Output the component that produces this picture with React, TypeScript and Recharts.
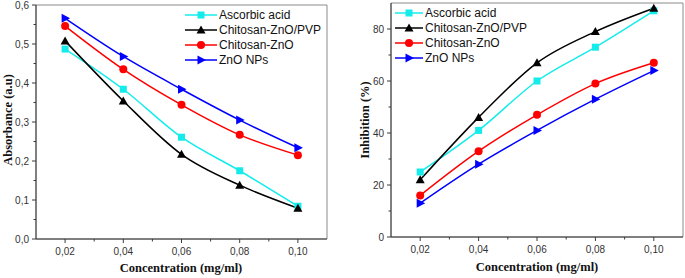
import { LineChart, Line, XAxis, YAxis, ReferenceArea } from 'recharts';

const concentrations = [0.02, 0.04, 0.06, 0.08, 0.1];

const absAscorbic = [0.487, 0.384, 0.261, 0.175, 0.084];
const absPvp = [0.508, 0.354, 0.217, 0.138, 0.079];
const absChitosan = [0.546, 0.435, 0.344, 0.267, 0.215];
const absZno = [0.566, 0.468, 0.384, 0.305, 0.234];

const inhAscorbic = [25, 41, 60, 73, 87];
const inhPvp = [22, 46, 67, 79, 88];
const inhChitosan = [16, 33, 47, 59, 67];
const inhZno = [13, 28, 41, 53, 64];

const xMajor = [0.02, 0.04, 0.06, 0.08, 0.1];
const xMinor = [0.03, 0.05, 0.07, 0.09];
const absMajor = [0, 0.1, 0.2, 0.3, 0.4, 0.5, 0.6];
const absMinor = [0.05, 0.15, 0.25, 0.35, 0.45, 0.55];
const inhMajor = [0, 20, 40, 60, 80];
const inhMinor = [10, 30, 50, 70];

const seriesNames = ['Ascorbic acid', 'Chitosan-ZnO/PVP', 'Chitosan-ZnO', 'ZnO NPs'];
const seriesColors = ['#14ecec', '#000000', '#ff0000', '#0000ff'];
const seriesShapes = ['square', 'triangle', 'circle', 'right'];

const AXIS = '#3a3a3a';
const FRAME = '#8a8a8a';
const SANS = '"Liberation Sans", Arial, sans-serif';
const SERIF = '"Liberation Serif", "Times New Roman", serif';

const absData = concentrations.map((c, i) => ({
  c,
  s0: absAscorbic[i],
  s1: absPvp[i],
  s2: absChitosan[i],
  s3: absZno[i],
}));

const inhData = concentrations.map((c, i) => ({
  c,
  s0: inhAscorbic[i],
  s1: inhPvp[i],
  s2: inhChitosan[i],
  s3: inhZno[i],
}));

const Marker = ({ cx, cy, shape, color }: any) => {
  if (cx == null || cy == null) return null;
  if (shape === 'square') return <rect x={cx - 3.5} y={cy - 3.5} width={7} height={7} fill={color} />;
  if (shape === 'triangle')
    return <polygon points={`${cx},${cy - 4.5} ${cx + 4.5},${cy + 3.5} ${cx - 4.5},${cy + 3.5}`} fill={color} />;
  if (shape === 'circle') return <circle cx={cx} cy={cy} r={4} fill={color} />;
  return <polygon points={`${cx + 5},${cy} ${cx - 3.5},${cy - 4.5} ${cx - 3.5},${cy + 4.5}`} fill={color} />;
};

const XTick = ({ x, y, payload }: any) => {
  const major = xMajor.includes(payload.value);
  return (
    <g>
      <line x1={x} x2={x} y1={y} y2={y + (major ? 4 : 2.5)} stroke={AXIS} />
      {major && (
        <text x={x} y={y + 16} textAnchor="middle" fontSize={10} fill="#333" fontFamily={SANS}>
          {payload.value.toFixed(2).replace('.', ',')}
        </text>
      )}
    </g>
  );
};

const YTick = ({ x, y, payload, majors, fmt }: any) => {
  const major = majors.includes(payload.value);
  return (
    <g>
      <line x1={x} x2={x - (major ? 4 : 2.5)} y1={y} y2={y} stroke={AXIS} />
      {major && (
        <text x={x - 7} y={y + 3.5} textAnchor="end" fontSize={10} fill="#333" fontFamily={SANS}>
          {fmt(payload.value)}
        </text>
      )}
    </g>
  );
};

const LegendBox = ({ lineWidth, left, top }: { lineWidth: number; left: number; top: number }) => (
  <div style={{ position: 'absolute', left, top, fontFamily: SANS, fontSize: 12, color: '#111' }}>
    {seriesNames.map((name, i) => (
      <div key={name} style={{ display: 'flex', alignItems: 'center', height: 15 }}>
        <svg width={lineWidth} height={12} style={{ marginRight: 2 }}>
          <line x1={0} x2={lineWidth} y1={6} y2={6} stroke={seriesColors[i]} strokeWidth={1.5} />
          <Marker cx={lineWidth / 2} cy={6} shape={seriesShapes[i]} color={seriesColors[i]} />
        </svg>
        <span style={{ whiteSpace: 'nowrap' }}>{name}</span>
      </div>
    ))}
  </div>
);

const renderLines = () =>
  seriesNames.map((name, i) => (
    <Line
      key={name}
      type="monotone"
      dataKey={`s${i}`}
      name={name}
      stroke={seriesColors[i]}
      strokeWidth={1.5}
      dot={(p: any) => <Marker key={p.index} cx={p.cx} cy={p.cy} shape={seriesShapes[i]} color={seriesColors[i]} />}
      activeDot={false}
      isAnimationActive={false}
    />
  ));

const titleStyle: any = {
  position: 'absolute',
  fontFamily: SERIF,
  fontWeight: 'bold',
  fontSize: 12.5,
  whiteSpace: 'nowrap',
  color: '#111',
};

export default function App() {
  return (
    <div style={{ position: 'absolute', left: 0, top: 0, width: 685, height: 278, background: '#fff' }}>
      <div style={{ position: 'absolute', left: 0, top: 0 }}>
        <LineChart width={340} height={278} data={absData} margin={{ top: 5, right: 13, left: 0, bottom: 0 }}>
          <ReferenceArea x1={0.01} x2={0.11} y1={0} y2={0.6} fill="none" stroke={FRAME} strokeWidth={1} />
          <XAxis
            dataKey="c"
            type="number"
            domain={[0.01, 0.11]}
            ticks={[...xMajor, ...xMinor]}
            interval={0}
            tickSize={0}
            tickMargin={0}
            tickLine={false}
            tick={(p: any) => <XTick {...p} />}
            axisLine={{ stroke: AXIS }}
            height={39}
          />
          <YAxis
            type="number"
            domain={[0, 0.6]}
            ticks={[...absMajor, ...absMinor]}
            interval={0}
            tickSize={0}
            tickMargin={0}
            tickLine={false}
            tick={(p: any) => <YTick {...p} majors={absMajor} fmt={(v: number) => v.toFixed(1).replace('.', ',')} />}
            axisLine={{ stroke: AXIS }}
            width={36}
          />
          {renderLines()}
        </LineChart>
        <LegendBox lineWidth={32} left={185} top={7} />
      </div>
      <div style={{ position: 'absolute', left: 345, top: 0 }}>
        <LineChart width={340} height={278} data={inhData} margin={{ top: 3, right: 2, left: 0, bottom: 0 }}>
          <ReferenceArea x1={0.01} x2={0.11} y1={0} y2={90} fill="none" stroke={FRAME} strokeWidth={1} />
          <XAxis
            dataKey="c"
            type="number"
            domain={[0.01, 0.11]}
            ticks={[...xMajor, ...xMinor]}
            interval={0}
            tickSize={0}
            tickMargin={0}
            tickLine={false}
            tick={(p: any) => <XTick {...p} />}
            axisLine={{ stroke: AXIS }}
            height={41}
          />
          <YAxis
            type="number"
            domain={[0, 90]}
            ticks={[...inhMajor, ...inhMinor]}
            interval={0}
            tickSize={0}
            tickMargin={0}
            tickLine={false}
            tick={(p: any) => <YTick {...p} majors={inhMajor} fmt={(v: number) => String(v)} />}
            axisLine={{ stroke: AXIS }}
            width={46}
          />
          {renderLines()}
        </LineChart>
        <LegendBox lineWidth={28} left={50} top={5} />
      </div>
      <div style={{ ...titleStyle, left: 181, top: 268, transform: 'translate(-50%, -50%)' }}>Concentration (mg/ml)</div>
      <div style={{ ...titleStyle, left: 537, top: 267, transform: 'translate(-50%, -50%)' }}>Concentration (mg/ml)</div>
      <div style={{ ...titleStyle, left: 8, top: 120, transform: 'translate(-50%, -50%) rotate(-90deg)' }}>Absorbance (a.u)</div>
      <div style={{ ...titleStyle, left: 365, top: 120, transform: 'translate(-50%, -50%) rotate(-90deg)' }}>Inhibition (%)</div>
    </div>
  );
}
